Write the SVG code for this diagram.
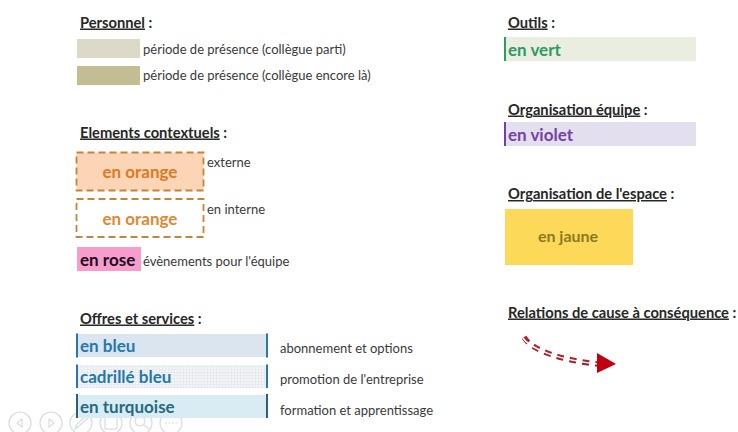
<svg xmlns="http://www.w3.org/2000/svg" width="738" height="432" viewBox="0 0 738 432">
<style>
text{font-family:Lato,"Liberation Sans",sans-serif;fill:#262626}
.h{font-size:14.700px;font-weight:700}
.h tspan{text-decoration:underline}
.d{font-size:13px;fill:#3a3a3a}
.b{font-size:17px;font-weight:700}
.dash{stroke:#c0853f;stroke-width:1.800;stroke-dasharray:7 4}
.ic{fill:none;stroke:#dcdcdc;stroke-width:1.200}
.arr{fill:none;stroke-dasharray:7 6}
</style>
<defs>
<pattern id="grid" width="3" height="3" patternUnits="userSpaceOnUse"><rect width="3" height="3" fill="#f2f4f6"/><path d="M3 0H0V3" fill="none" stroke="#d5dde4" stroke-width=".7"/></pattern>
</defs>
<rect width="738" height="432" fill="#fff"/>
<g id="toolbar">
<circle class="ic" cx="20" cy="423" r="11"/><path class="ic" d="M22 419l-5 4 5 4z"/>
<circle class="ic" cx="51" cy="423" r="11"/><path class="ic" d="M49 419l5 4-5 4z"/>
<circle class="ic" cx="81" cy="423" r="11"/><path class="ic" d="M75 429l2-5 9-8 2 2-9 8z"/>
<circle class="ic" cx="111" cy="423" r="11"/><rect class="ic" x="105" y="417" width="12" height="12"/>
<circle class="ic" cx="141" cy="423" r="11"/><circle class="ic" cx="140" cy="421" r="5"/><path class="ic" d="M144 425l5 4"/>
<circle class="ic" cx="171" cy="423" r="11"/><path class="ic" d="M165 423h12" stroke-dasharray="2 1.500"/>
</g>
<g id="personnel">
<text class="h" x="80" y="27.500"><tspan>Personnel</tspan> :</text>
<rect x="77" y="39" width="63" height="19" fill="#dcd9c8"/>
<text class="d" x="143" y="54">période de présence (collègue parti)</text>
<rect x="77" y="66" width="63" height="19" fill="#c3bd93"/>
<text class="d" x="143" y="80">période de présence (collègue encore là)</text>
</g>
<g id="contextuels">
<text class="h" x="80" y="137.500"><tspan>Elements contextuels</tspan> :</text>
<rect class="dash" x="76.500" y="152.500" width="127" height="38" fill="#fbd5b5"/>
<text class="b" x="140" y="178" text-anchor="middle" style="fill:#dd7a26">en orange</text>
<text class="d" x="207" y="167">externe</text>
<rect class="dash" x="76.500" y="199" width="127" height="38" fill="#fff"/>
<text class="b" x="140" y="225" text-anchor="middle" style="fill:#dd8a34">en orange</text>
<text class="d" x="207" y="214">en interne</text>
<rect x="77" y="247" width="64" height="24" fill="#f79ccb"/>
<text class="b" x="80" y="265.500" style="fill:#1d0a1e">en rose</text>
<text class="d" x="143" y="265.500">évènements pour l'équipe</text>
</g>
<g id="offres">
<text class="h" x="80" y="323.500"><tspan>Offres et services</tspan> :</text>
<rect x="77" y="334" width="190" height="23" fill="#dae5f0"/>
<path d="M77 333.500V357.500M267 333.500V357.500" stroke="#2b77a8" stroke-width="2"/>
<text class="b" x="80" y="352" style="fill:#2478ac">en bleu</text>
<text class="d" x="280" y="352.500">abonnement et options</text>
<rect x="77" y="365" width="190" height="23" fill="url(#grid)"/>
<path d="M77 364.500V388M267 364.500V388" stroke="#2b77a8" stroke-width="2"/>
<text class="b" x="80" y="383" style="fill:#2478ac">cadrillé bleu</text>
<text class="d" x="280" y="383.500">promotion de l'entreprise</text>
<rect x="77" y="395" width="190" height="23" fill="#daecf3"/>
<path d="M77 394V418M267 394V418" stroke="#2c5f72" stroke-width="2"/>
<text class="b" x="80" y="413" style="fill:#256a80">en turquoise</text>
<text class="d" x="280" y="414.500">formation et apprentissage</text>
</g>
<g id="outils">
<text class="h" x="508" y="27.500"><tspan>Outils</tspan> :</text>
<rect x="505" y="37" width="191" height="24" fill="#e9eee0"/>
<path d="M505 37V61" stroke="#2f9a66" stroke-width="2"/>
<text class="b" x="508" y="55.500" style="fill:#2d9a63">en vert</text>
</g>
<g id="organisation-equipe">
<text class="h" x="508" y="114.500"><tspan>Organisation équipe</tspan> :</text>
<rect x="505" y="122" width="191" height="24" fill="#e3dfee"/>
<path d="M505 122V146" stroke="#7340a0" stroke-width="2"/>
<text class="b" x="508" y="140.500" style="fill:#7443a3">en violet</text>
</g>
<g id="organisation-espace">
<text class="h" x="508" y="199"><tspan>Organisation de l'espace</tspan> :</text>
<rect x="505" y="209" width="128" height="56" fill="#fdd95a"/>
<text class="b" x="568" y="242" text-anchor="middle" style="fill:#8c7a22;font-size:16px">en jaune</text>
</g>
<g id="relations">
<text class="h" x="508" y="317.500"><tspan>Relations de cause à conséquence</tspan> :</text>
</g>
<g id="connectors">
<path class="arr" d="M524 337C531 350 560 360 598 364" stroke="#a8232f" stroke-width="5.500"/>
<path d="M522 337C531 350 560 360 598 364" fill="none" stroke="#fff" stroke-width="1.500"/>
<polygon points="597,353 616,364 597,373" fill="#c00010"/>
</g>
</svg>
